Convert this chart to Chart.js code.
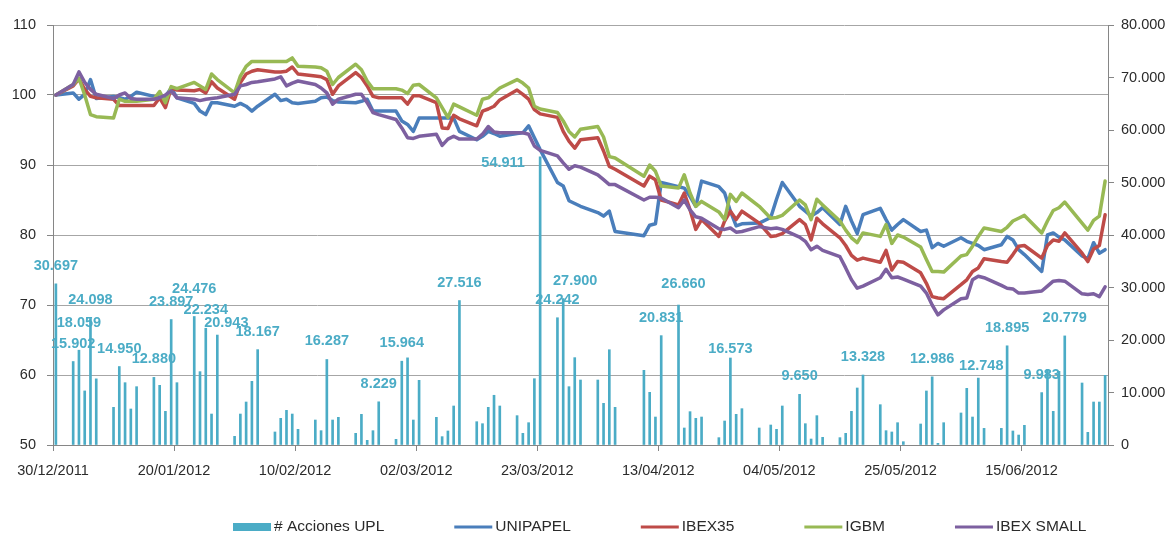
<!DOCTYPE html>
<html><head><meta charset="utf-8">
<script src="https://cdn.jsdelivr.net/npm/chart.js@4/dist/chart.umd.min.js"></script>
<style>html,body{margin:0;padding:0;background:#fff}#wrap{width:1168px;height:536px}</style>
</head><body><div id="wrap"><canvas id="c" width="1168" height="536"></canvas></div>
<script>
const dates = [
'30/12/2011',
'02/01/2012','03/01/2012','04/01/2012','05/01/2012','06/01/2012',
'09/01/2012','10/01/2012','11/01/2012','12/01/2012','13/01/2012',
'16/01/2012','17/01/2012','18/01/2012','19/01/2012','20/01/2012',
'23/01/2012','24/01/2012','25/01/2012','26/01/2012','27/01/2012',
'30/01/2012','31/01/2012','01/02/2012','02/02/2012','03/02/2012',
'06/02/2012','07/02/2012','08/02/2012','09/02/2012','10/02/2012',
'13/02/2012','14/02/2012','15/02/2012','16/02/2012','17/02/2012',
'20/02/2012','21/02/2012','22/02/2012','23/02/2012','24/02/2012',
'27/02/2012','28/02/2012','29/02/2012','01/03/2012','02/03/2012',
'05/03/2012','06/03/2012','07/03/2012','08/03/2012','09/03/2012',
'12/03/2012','13/03/2012','14/03/2012','15/03/2012','16/03/2012',
'19/03/2012','20/03/2012','21/03/2012','22/03/2012','23/03/2012',
'26/03/2012','27/03/2012','28/03/2012','29/03/2012','30/03/2012',
'02/04/2012','03/04/2012','04/04/2012','05/04/2012',
'10/04/2012','11/04/2012','12/04/2012','13/04/2012',
'16/04/2012','17/04/2012','18/04/2012','19/04/2012','20/04/2012',
'23/04/2012','24/04/2012','25/04/2012','26/04/2012','27/04/2012',
'30/04/2012','02/05/2012','03/05/2012','04/05/2012',
'07/05/2012','08/05/2012','09/05/2012','10/05/2012','11/05/2012',
'14/05/2012','15/05/2012','16/05/2012','17/05/2012','18/05/2012',
'21/05/2012','22/05/2012','23/05/2012','24/05/2012','25/05/2012',
'28/05/2012','29/05/2012','30/05/2012','31/05/2012','01/06/2012',
'04/06/2012','05/06/2012','06/06/2012','07/06/2012','08/06/2012',
'11/06/2012','12/06/2012','13/06/2012','14/06/2012','15/06/2012',
'18/06/2012','19/06/2012','20/06/2012','21/06/2012','22/06/2012',
'25/06/2012','26/06/2012','27/06/2012','28/06/2012','29/06/2012'
];

const accionesUPL = [
30697,15902,18059,10300,24098,12600,7180,14950,11870,6860,
11110,12880,11370,6410,23897,11870,24476,13970,22234,5900,
20943,1650,5900,8190,12130,18167,2480,5080,6600,5900,
2990,4760,2730,16287,4760,5270,2220,5840,890,2730,
8229,1080,15964,16600,4760,12320,5270,1590,2670,7430,
27516,4440,4060,7180,9470,7430,5590,2220,4250,12630,
54911,24242,27900,11110,16640,12380,12380,7940,18150,7180,
14220,10030,5330,20831,26660,3240,6350,5080,5330,1400,
4570,16573,5840,6920,3240,3810,2990,7430,9650,4060,
1140,5590,1460,1400,2220,6410,10860,13328,7680,2730,
2480,4250,630,4000,10290,12986,320,4250,6100,10790,
5330,12748,3170,3170,18895,2670,1900,3750,9983,14410,
6410,14030,20779,11810,2410,8190,8190,13270
];

const unipapel = [
100,100.3,99.4,100.1,102.2,99.5,99.8,99.6,99.4,99.8,
100.4,99.8,99.7,99.8,101,99.6,98.8,97.7,97.2,98.9,
98.9,98.4,98.8,98.4,97.7,98.4,100.1,99.2,99.4,98.9,
98.8,99.1,99.6,99.7,99.2,99,98.9,99.1,99.4,97.7,
97.7,97.7,96.3,95.8,94.8,96.7,96.7,96.7,96.7,96.7,
94.8,93.6,94.1,94.8,94.5,94.1,94.5,94.6,95.6,93.9,
92.2,87.5,87,84.9,84.5,84.1,83.2,82.7,83.4,80.5,
79.9,81.4,81.6,87.5,86.9,86.7,85.5,84.1,87.7,86.9,
86,83.4,81.3,81.6,81.7,82.5,85.1,87.5,84.1,83.4,
82.7,83.2,83.9,81.5,84.1,82,80.2,82.9,83.8,82.2,
80.7,81.5,82.2,80.5,80.7,78.2,78.8,78.4,79.6,79.1,
78.8,78.5,77.9,78.6,79.8,79.3,77.9,77.2,74.8,80,
80.3,79.7,79.3,77,76.6,78.9,77.4,77.9
];

const ibex35 = [
100,101.3,102.3,100.8,99.8,99.6,99.4,98.5,98.5,98.5,
98.5,98.5,99.6,98.2,101,100.7,100.6,100.8,100.3,101.9,
101,99.4,101.8,103,103.4,103.6,103.3,103.3,103.4,104,
103,102.7,102.6,102.2,100.1,101.3,103.2,102.5,101.3,99.8,
99.6,99.6,99.6,98.7,99.9,99.9,98.9,95.3,95.2,97.1,
96.6,95.6,97.7,98,98.4,99.3,100.7,100.1,99.4,97.9,
97.3,96.8,94.8,93.4,92.4,93.6,93.9,92,89.8,89.4,
87,88.4,87.9,85,84.3,86,83.6,80.8,82.2,79.8,
82,83.4,82.2,83.4,81.7,79.8,79.9,80.2,82.2,81.5,
79.3,82.4,81.6,79.6,78.5,77.1,76.4,76.7,76.1,77.8,
75,76.2,76.1,74.6,73.1,71.2,71,70.9,72.9,73.6,
74.8,75.3,76.6,76.2,76.1,77.2,78.4,78.5,76.7,78.5,
79.3,79.1,80.3,77.4,76.2,78,78.5,82.9
];

const igbm = [
100,101.5,102.4,100,97.2,96.9,96.7,99.4,99.1,99.1,
99.1,99.4,100.5,98.9,101.2,100.9,101.8,101.3,100.8,103,
102.2,100.3,102.7,104.1,104.8,104.8,104.8,104.8,104.8,105.3,
104.1,104,103.9,103.4,101.5,102.5,104.4,103.6,102,100.9,
100.9,100.9,100.7,100.2,101.4,101.5,99.6,98.2,96.8,98.7,
98.3,97.1,99.4,99.6,100.3,101,102.2,101.7,101,98.4,
98,97.5,96.3,94.8,94,95.1,95.5,94,91.2,91,
88.4,90,89.1,87,86.7,88.6,86,84.1,84.8,83.3,
82.2,85.8,84.8,86,84.1,82.4,82.5,82.8,85,84.3,
82.2,85.1,84.3,82,80.7,79.6,78.9,80.3,79.8,81.5,
78.8,80,79.7,78.3,76.5,74.8,74.8,74.7,77,77.2,
78.4,79.8,81,80.5,81.1,82,82.4,82.8,80.3,82,
83.5,83.9,84.7,81.7,80.7,82.1,82.7,87.7
];

const ibexSmall = [
100,101.5,103.3,101.8,100.8,100.1,99.5,100,100.3,99.5,
99.4,99.4,99.6,100,100.6,99.6,99.4,99.2,99.4,99.5,
99.6,100.1,101.3,101.5,101.8,101.9,102.3,102.6,101.3,101.7,
102,101.5,101,100.3,98.7,99.4,100.1,100.1,98.9,97.5,
97.2,96.5,95.3,93.9,93.8,94.1,94.4,92.8,93.7,94.1,
93.7,93.7,94.4,95.5,94.7,94.6,94.6,94.6,94.4,92.7,
92.1,91.3,90.3,89.4,89.9,89.7,88.6,87.9,87.2,87.2,
85,85.4,85.4,85.3,83.9,85,83.6,82.6,82.4,80.9,
80.8,81,80.4,80.5,81.2,80.9,81,80.8,79.7,79.1,
77.9,78.4,77.8,76.9,75.3,73.6,72.4,72.7,73.9,75.1,
73.9,74,73.7,72.7,71.7,70,68.6,69.3,70.9,71,
73.6,74.1,73.9,72.8,72.4,72.3,71.7,71.7,72,72.7,
73.4,73.5,73.4,71.6,71.5,71.6,71.2,72.6
];

const xTickLabels = ['30/12/2011','20/01/2012','10/02/2012','02/03/2012','23/03/2012','13/04/2012','04/05/2012','25/05/2012','15/06/2012'];
const leftTicks = [50, 60, 70, 80, 90, 100, 110];
const rightTicks = [0, 10000, 20000, 30000, 40000, 50000, 60000, 70000, 80000];

const labelledDates = ['30/12/2011','02/01/2012','03/01/2012','05/01/2012','10/01/2012','16/01/2012','19/01/2012',
 '23/01/2012','25/01/2012','27/01/2012','03/02/2012','15/02/2012','24/02/2012','28/02/2012','09/03/2012',
 '23/03/2012','26/03/2012','27/03/2012','13/04/2012','16/04/2012','25/04/2012','07/05/2012','18/05/2012',
 '30/05/2012','07/06/2012','12/06/2012','18/06/2012','22/06/2012'];

// ---- helpers ----
const base = Date.UTC(2011, 11, 30);
const dayOf = s => { const [d, m, y] = s.split('/').map(Number); return Math.round((Date.UTC(y, m - 1, d) - base) / 864e5); };
const xs = dates.map(dayOf);
const pts = arr => arr.map((v, i) => ({ x: xs[i], y: v }));
const fmt = v => String(v).replace(/\B(?=(\d{3})+(?!\d))/g, '.');

const FONT = "'Liberation Sans', Arial, sans-serif";
const TEXT = '#2b2b2b';
const AXIS = '#868686';

const barLabels = {
  id: 'barLabels',
  afterDatasetsDraw(chart, args, opts) {
    const ctx = chart.ctx;
    const meta = chart.getDatasetMeta(0);
    ctx.save();
    ctx.font = 'bold 14.5px ' + FONT;
    ctx.fillStyle = '#4BACC6';
    ctx.textAlign = 'center';
    ctx.textBaseline = 'middle';
    labelledDates.forEach(ds => {
      const i = dates.indexOf(ds);
      const el = meta.data[i];
      const [dx, dy] = opts.nudge[ds] || [0, 0];
      ctx.fillText(fmt(accionesUPL[i]), el.x + dx, el.y - 18 + dy);
    });
    ctx.restore();
  }
};

const customLegend = {
  id: 'customLegend',
  afterDraw(chart, args, opts) {
    const ctx = chart.ctx;
    ctx.save();
    ctx.font = '15.5px ' + FONT;
    ctx.textBaseline = 'middle';
    ctx.textAlign = 'left';
    let x = opts.x;
    const y = opts.y;
    chart.data.datasets.forEach(ds => {
      if (ds.type === 'bar') {
        ctx.fillStyle = ds.backgroundColor;
        ctx.fillRect(x, y - 4, opts.sym, 8);
      } else {
        ctx.strokeStyle = ds.borderColor;
        ctx.lineWidth = 3;
        ctx.beginPath(); ctx.moveTo(x, y); ctx.lineTo(x + opts.sym, y); ctx.stroke();
      }
      x += opts.sym + 3;
      ctx.fillStyle = TEXT;
      ctx.fillText(ds.label, x, y);
      x += ctx.measureText(ds.label).width + opts.gap;
    });
    ctx.restore();
  }
};

const lineDs = (label, data, color, order) => ({
  type: 'line', label, data: pts(data), yAxisID: 'y', xAxisID: 'x',
  borderColor: color, backgroundColor: color, borderWidth: 3.5,
  pointRadius: 0, tension: 0, fill: false, order,
  borderJoinStyle: 'round', borderCapStyle: 'round'
});

new Chart(document.getElementById('c'), {
  type: 'line',
  data: {
    datasets: [
      { type: 'bar', label: '# Acciones UPL', data: pts(accionesUPL), yAxisID: 'y2', xAxisID: 'x',
        backgroundColor: '#4BACC6', borderWidth: 0, barThickness: 2, order: 5 },
      lineDs('UNIPAPEL', unipapel, '#4A7EBB', 4),
      lineDs('IBEX35', ibex35, '#BE4B48', 3),
      lineDs('IGBM', igbm, '#98B954', 2),
      lineDs('IBEX SMALL', ibexSmall, '#7D60A0', 1)
    ]
  },
  options: {
    responsive: false,
    animation: false,
    devicePixelRatio: 1,
    layout: { padding: { top: 25, right: 0, bottom: 51, left: 0 } },
    plugins: {
      legend: { display: false },
      tooltip: { enabled: false },
      barLabels: { nudge: {
        '03/01/2012': [0, -9], '23/01/2012': [0, -10], '27/01/2012': [9, 6],
        '23/03/2012': [-37, 24], '27/03/2012': [12, 0], '16/04/2012': [5, -3],
        '25/04/2012': [0, 9], '07/06/2012': [3, 6]
      } },
      customLegend: { x: 233, y: 527, sym: 38, gap: 70 }
    },
    scales: {
      x: {
        type: 'linear', min: -0.5, max: 182.5, offset: false,
        afterBuildTicks: s => { s.ticks = xTickLabels.map(l => ({ value: dayOf(l) - 0.5 })); },
        ticks: { callback: (v, i) => xTickLabels[i], autoSkip: false, maxRotation: 0,
                 font: { family: FONT, size: 14.5 }, color: TEXT, padding: 11 },
        grid: { drawOnChartArea: false, drawTicks: true, tickLength: 6, tickColor: AXIS, offset: false },
        border: { display: true, color: AXIS, width: 1 },
        afterFit: s => { s.height = 40; }
      },
      y: {
        position: 'left', min: 50, max: 110,
        afterBuildTicks: s => { s.ticks = leftTicks.map(v => ({ value: v })); },
        ticks: { font: { family: FONT, size: 14.5 }, color: TEXT, padding: 11 },
        grid: { color: '#A6A6A6', tickColor: AXIS, tickLength: 6, lineWidth: 1 },
        border: { display: true, color: AXIS, width: 1 },
        afterFit: s => { s.width = 53; }
      },
      y2: {
        position: 'right', min: 0, max: 80000,
        afterBuildTicks: s => { s.ticks = rightTicks.map(v => ({ value: v })); },
        ticks: { callback: v => fmt(v), font: { family: FONT, size: 14.5 }, color: TEXT, padding: 7 },
        grid: { drawOnChartArea: false, tickColor: AXIS, tickLength: 6 },
        border: { display: true, color: AXIS, width: 1 },
        afterFit: s => { s.width = 60; }
      }
    }
  },
  plugins: [barLabels, customLegend]
});
</script>
</body></html>
